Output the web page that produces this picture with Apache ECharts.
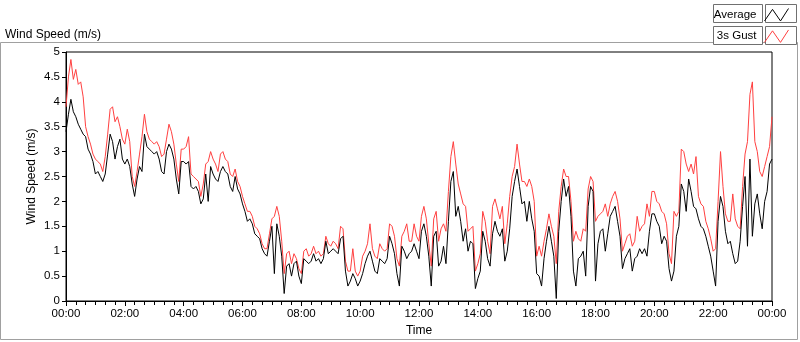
<!DOCTYPE html>
<html>
<head>
<meta charset="utf-8">
<script src="https://cdn.jsdelivr.net/npm/echarts@6/dist/echarts.min.js"></script>
<style>
  html, body { margin: 0; padding: 0; background: #fff; }
  #chart { width: 800px; height: 342px; }
</style>
</head>
<body>
<div id="chart"></div>
<script>
// one reading every 5 minutes, 00:00 .. 24:00 (289 values)
var stepMinutes = 5;

var avgSpeed = [
  // 00:00 - 04:00
  3.4, 3.75, 4.05, 3.8, 3.7, 3.55, 3.45, 3.35, 3.3, 3.05, 2.95, 2.8, 2.55, 2.6, 2.5, 2.4,
  2.55, 2.95, 3.35, 3.2, 2.85, 3.1, 3.25, 2.85, 2.75, 2.85, 2.7, 2.35, 2.1, 2.45, 2.7, 2.6,
  3.35, 3.1, 3.05, 3.0, 2.95, 3.0, 2.85, 2.6, 2.55, 3.0, 3.15, 3.05, 2.85, 2.45, 2.15, 2.8,
  // 04:00 - 08:00
  2.8, 2.75, 2.8, 2.3, 2.25, 2.3, 2.2, 1.95, 2.05, 2.55, 2.0, 2.7, 2.55, 2.45, 2.4, 2.6,
  2.7, 2.6, 2.55, 2.3, 2.2, 2.5, 2.25, 2.15, 1.95, 1.8, 1.6, 1.65, 1.55, 1.35, 1.3, 1.25,
  1.05, 0.95, 0.9, 1.2, 1.5, 0.55, 1.55, 1.3, 0.9, 0.15, 0.7, 0.75, 0.5, 0.75, 0.8, 0.5,
  // 08:00 - 12:00
  0.35, 0.85, 0.8, 0.75, 0.8, 0.95, 0.8, 0.85, 0.75, 0.85, 1.2, 0.95, 1.0, 1.05, 1.0, 0.95,
  1.25, 1.3, 0.6, 0.3, 0.4, 0.55, 0.45, 0.3, 0.4, 0.55, 0.75, 0.9, 1.0, 0.8, 0.6, 0.55,
  0.85, 0.8, 0.75, 0.85, 1.3, 1.15, 0.95, 0.55, 0.3, 1.1, 1.0, 0.85, 0.95, 1.0, 1.15, 1.0,
  // 12:00 - 16:00
  0.85, 1.4, 1.55, 1.3, 0.9, 0.3, 1.3, 1.4, 0.7, 0.8, 1.1, 0.75, 1.6, 2.4, 2.6, 1.7,
  1.9, 1.6, 1.2, 1.45, 1.0, 1.2, 1.15, 0.25, 0.45, 0.6, 1.4, 1.2, 0.85, 0.7, 1.35, 1.6,
  1.4, 1.3, 1.45, 0.8, 1.0, 1.45, 2.1, 2.4, 2.65, 2.3, 1.95, 2.0, 1.6, 2.0, 1.65, 1.4,
  // 16:00 - 20:00
  0.55, 0.5, 0.3, 0.85, 1.2, 1.5, 1.2, 0.9, 0.05, 1.4, 2.0, 2.45, 2.1, 2.3, 1.7, 0.6,
  0.3, 0.85, 0.9, 1.0, 0.5, 1.9, 2.3, 2.2, 0.4, 1.15, 1.4, 1.45, 1.0, 1.35, 1.7, 1.8,
  1.9, 1.6, 1.3, 0.65, 0.85, 0.95, 1.05, 0.6, 0.85, 0.9, 1.05, 0.95, 1.05, 0.9, 1.4, 1.75,
  // 20:00 - 24:00
  1.75, 1.6, 1.5, 1.15, 1.3, 1.2, 0.65, 0.4, 0.6, 1.3, 1.5, 2.35, 2.2, 1.8, 2.45, 2.2,
  1.9, 1.85, 1.65, 1.5, 1.45, 1.3, 1.1, 0.9, 0.6, 0.3, 1.6, 2.1, 1.9, 1.4, 1.15, 1.2,
  0.95, 0.75, 0.8, 1.2, 1.9, 2.5, 1.1, 2.85, 1.3, 1.95, 2.15, 1.75, 1.45, 2.0, 2.2, 2.75,
  2.85
];

var gustSpeed = [
  // 00:00 - 04:00
  3.9, 4.5, 4.85, 4.45, 4.65, 4.35, 4.4, 4.1, 3.5, 3.3, 3.15, 2.95, 2.85, 2.8, 2.75, 2.6,
  2.9, 3.35, 3.85, 3.9, 3.6, 3.7, 3.5, 3.25, 3.15, 3.45, 3.2, 2.5, 2.3, 2.6, 2.95, 3.3,
  3.75, 3.4, 3.25, 3.2, 3.15, 3.2, 3.1, 2.9, 2.95, 3.25, 3.55, 3.4, 3.15, 2.75, 2.4, 3.05,
  // 04:00 - 08:00
  3.05, 3.1, 3.3, 2.55, 2.5, 2.45, 2.4, 2.1, 2.35, 2.75, 2.8, 3.0, 2.85, 2.75, 2.6, 2.95,
  3.0, 2.85, 2.8, 2.55, 2.5, 2.65, 2.4, 2.3, 2.1, 1.95, 1.8, 1.8, 1.7, 1.5, 1.45, 1.35,
  1.15, 1.05, 1.05, 1.35, 1.65, 1.7, 1.9, 1.7, 1.2, 0.55, 0.95, 1.0, 0.75, 0.95, 0.85, 0.65,
  // 08:00 - 12:00
  0.55, 1.0, 1.05, 0.9, 0.95, 1.1, 0.95, 1.0, 0.9, 0.95, 1.3, 1.15, 1.1, 1.2, 1.15, 1.05,
  1.5, 1.45, 0.8, 0.6, 0.6, 1.05, 0.6, 0.5, 0.6, 0.9, 1.0, 1.15, 1.55, 1.05, 0.9, 0.85,
  1.15, 1.05, 1.0, 1.05, 1.55, 1.5, 1.3, 0.85, 0.7, 1.3, 1.4, 1.55, 1.2, 1.2, 1.55, 1.3,
  // 12:00 - 16:00
  1.2, 1.7, 1.9, 1.65, 1.15, 0.7, 1.65, 1.8, 1.2, 1.45, 1.55, 1.4, 2.2, 2.9, 3.2, 2.75,
  2.35, 2.15, 1.95, 1.9, 1.4, 1.45, 1.5, 0.6, 0.75, 0.95, 1.8, 1.6, 1.2, 0.95, 1.9, 2.05,
  1.85, 1.65, 1.9, 1.15, 1.55, 2.1, 2.5, 2.7, 3.15, 2.75, 2.4, 2.4, 2.3, 2.45, 2.3, 2.0,
  // 16:00 - 20:00
  0.9, 1.1, 0.9, 1.2, 1.45, 1.75, 1.5, 1.3, 0.75, 1.8, 2.3, 2.65, 2.5, 2.5, 2.0, 1.2,
  1.4, 1.25, 1.2, 1.45, 1.4, 2.25, 2.5, 2.4, 1.6, 1.7, 1.75, 1.8, 1.95, 1.7, 1.95, 2.1,
  2.2, 2.0, 1.65, 1.0, 1.15, 1.3, 1.35, 1.1, 1.2, 1.7, 1.4, 1.5, 1.55, 1.95, 1.7, 2.2,
  // 20:00 - 24:00
  2.2, 2.0, 1.95, 1.8, 1.75, 1.55, 0.95, 0.75, 1.8, 1.7, 1.8, 3.05, 3.0, 2.75, 2.6, 2.75,
  2.55, 2.9, 2.1, 1.95, 1.9, 1.6, 1.45, 1.25, 1.0, 1.05, 2.0, 3.0, 2.3, 1.75, 1.6, 1.6,
  2.15, 1.65, 1.5, 1.45, 2.3, 2.95, 3.2, 4.15, 4.4, 3.2, 3.0, 2.6, 2.5, 2.7, 2.9, 3.1,
  3.7
];

var avgColor = '#000';
var gustColor = '#ff4040';

function toPoints(arr) {
  return arr.map(function (v, i) { return [i * stepMinutes, v]; });
}

function hhmm(m) {
  var h = Math.floor(m / 60) % 24;
  return (h < 10 ? '0' : '') + h + ':00';
}

var font = 'Liberation Sans';
var chart = echarts.init(document.getElementById('chart'));

var zigzag = 'path://M0,14 L9,1 L18,14 L27,0';

var option = {
  backgroundColor: '#fff',
  animation: false,
  textStyle: { fontFamily: font },
  title: {
    text: 'Wind Speed (m/s)',
    left: 0,
    top: 24,
    textStyle: { fontSize: 12, fontWeight: 'normal', color: '#000', fontFamily: font }
  },
  legend: {
    data: [
      { name: 'Average', icon: zigzag,
        itemStyle: { color: 'rgba(0,0,0,0)', borderColor: avgColor, borderWidth: 1 } },
      { name: '3s Gust', icon: zigzag,
        itemStyle: { color: 'rgba(0,0,0,0)', borderColor: gustColor, borderWidth: 1 } }
    ],
    orient: 'vertical',
    right: 6,
    top: 3,
    itemGap: 8,
    itemWidth: 24,
    itemHeight: 13,
    align: 'right',
    textStyle: { fontSize: 11.5, color: '#000', fontFamily: font, padding: [0, 3, 0, 0] }
  },
  grid: {
    left: 66, right: 28, top: 52, bottom: 39,
    show: true, borderColor: '#000', borderWidth: 1
  },
  xAxis: {
    type: 'value',
    min: 0, max: 1440, interval: 120,
    name: 'Time', nameLocation: 'middle', nameGap: 24,
    nameTextStyle: { fontSize: 12, color: '#000', fontFamily: font },
    axisLine: { lineStyle: { color: '#000' } },
    axisTick: { length: 5, lineStyle: { color: '#000' } },
    minorTick: { show: true, splitNumber: 6, length: 4, lineStyle: { color: '#000' } },
    axisLabel: { formatter: hhmm, fontSize: 11.5, color: '#000', margin: 7, fontFamily: font },
    splitLine: { show: false }
  },
  yAxis: {
    type: 'value',
    min: 0, max: 5, interval: 0.5,
    name: 'Wind Speed (m/s)', nameLocation: 'middle', nameGap: 28,
    nameMoveOverlap: false,
    nameTextStyle: { fontSize: 12, color: '#000', fontFamily: font },
    axisLine: { show: true, lineStyle: { color: '#000' } },
    axisTick: { show: true, length: 4, lineStyle: { color: '#000' } },
    axisLabel: { fontSize: 11.5, color: '#000', margin: 6, fontFamily: font },
    splitLine: { show: false }
  },
  graphic: [
    { type: 'rect', z: -10, shape: { x: 0.5, y: 42.5, width: 797, height: 297 },
      style: { fill: 'none', stroke: '#a0a0a0', lineWidth: 1 } },
    { type: 'rect', z: -5, shape: { x: 713.5, y: 4.5, width: 49, height: 18 },
      style: { fill: '#fff', stroke: '#707070', lineWidth: 1 } },
    { type: 'rect', z: -5, shape: { x: 765.5, y: 4.5, width: 31, height: 18 },
      style: { fill: '#fff', stroke: '#707070', lineWidth: 1 } },
    { type: 'rect', z: -5, shape: { x: 713.5, y: 26.5, width: 49, height: 18 },
      style: { fill: '#fff', stroke: '#707070', lineWidth: 1 } },
    { type: 'rect', z: -5, shape: { x: 765.5, y: 26.5, width: 31, height: 18 },
      style: { fill: '#fff', stroke: '#707070', lineWidth: 1 } }
  ],
  series: [
    {
      name: '3s Gust', type: 'line', data: toPoints(gustSpeed),
      showSymbol: false, symbol: 'none',
      lineStyle: { color: gustColor, width: 1 }, itemStyle: { color: gustColor }
    },
    {
      name: 'Average', type: 'line', data: toPoints(avgSpeed),
      showSymbol: false, symbol: 'none',
      lineStyle: { color: avgColor, width: 1 }, itemStyle: { color: avgColor }
    }
  ]
};

chart.setOption(option);
</script>
</body>
</html>
